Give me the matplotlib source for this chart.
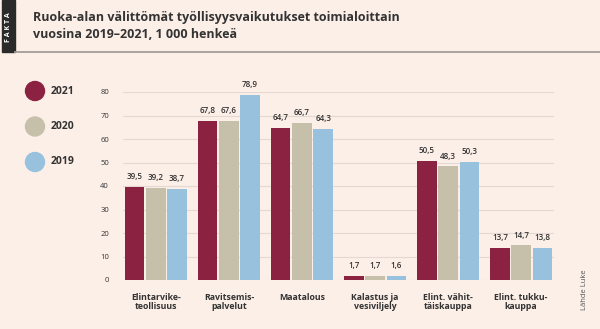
import numpy as np
import matplotlib.pyplot as plt
from matplotlib.patches import Rectangle, Circle

categories = ['Elintarvike-\nteollisuus', 'Ravitsemis-\npalvelut', 'Maatalous',
              'Kalastus ja\nvesiviljely', 'Elint. vähit-\ntäiskauppa', 'Elint. tukku-\nkauppa']
years = ['2021', '2020', '2019']
v2021 = [39.5, 67.8, 64.7, 1.7, 50.5, 13.7]
v2020 = [39.2, 67.6, 66.7, 1.7, 48.3, 14.7]
v2019 = [38.7, 78.9, 64.3, 1.6, 50.3, 13.8]
colors = ['#8c2242', '#c6c0ab', '#97c1dc']

bg = '#fcefe8'
txt = '#333333'
plt.rcParams['font.family'] = ['Open Sans', 'DejaVu Sans']

W, H = 600, 329
fig = plt.figure(figsize=(6, 3.29), dpi=100, facecolor=bg)

# overlay axes in pixel coordinates for header, legend and source
lax = fig.add_axes([0, 0, 1, 1], facecolor='none')
lax.set_xlim(0, W)
lax.set_ylim(H, 0)
lax.axis('off')

lax.add_patch(Rectangle((2, 0), 13, 52, color='#2a2a2a'))
lax.text(8.5, 27, 'F A K T A', rotation=90, color='white', fontsize=5,
         fontweight='bold', ha='center', va='center')
lax.plot([15, W], [52, 52], color='#a39d9b', lw=1.3)
lax.text(33, 18, 'Ruoka-alan välittömät työllisyysvaikutukset toimialoittain',
         fontsize=9, fontweight='bold', color=txt, va='center')
lax.text(33, 35, 'vuosina 2019–2021, 1 000 henkeä',
         fontsize=9, fontweight='bold', color=txt, va='center')

for i, (yr, c) in enumerate(zip(years, colors)):
    cy = 91 + i * 35.5
    lax.add_patch(Circle((35, cy), 9.5, color=c))
    lax.text(51, cy, yr, fontsize=7.5, fontweight='bold', color=txt, va='center')
lax.text(585, 290, 'Lähde Luke', rotation=90, fontsize=5.5, color='#555555',
         ha='center', va='center')

ax = fig.add_axes([123 / W, 1 - 280 / H, 431 / W, 188 / H], facecolor='none')
x = np.arange(len(categories))
w = 0.265
step = 0.29
for j, (vals, c) in enumerate(zip([v2021, v2020, v2019], colors)):
    pos = x + (j - 1) * step
    ax.bar(pos, vals, width=w, color=c, zorder=3)
    for p, v in zip(pos, vals):
        ax.text(p, v + 2.5, f'{v:.1f}'.replace('.', ','), ha='center', va='bottom',
                fontsize=5.8, fontweight='semibold', color=txt, clip_on=False)

ax.set_xlim(-0.45, 5.45)
ax.set_ylim(0, 80)
ax.set_yticks(range(0, 81, 10))
ax.yaxis.grid(True, color='#e3d8d2', lw=0.8, zorder=0)
ax.tick_params(axis='y', length=0, pad=10, labelsize=5.5, labelcolor=txt)
ax.tick_params(axis='x', length=0, pad=9)
ax.set_xticks(x)
ax.set_xticklabels(categories, fontsize=6.3, fontweight='bold', color=txt, linespacing=1.05)
for s in ax.spines.values():
    s.set_visible(False)

fig.savefig('out.png', dpi=100, facecolor=bg)
